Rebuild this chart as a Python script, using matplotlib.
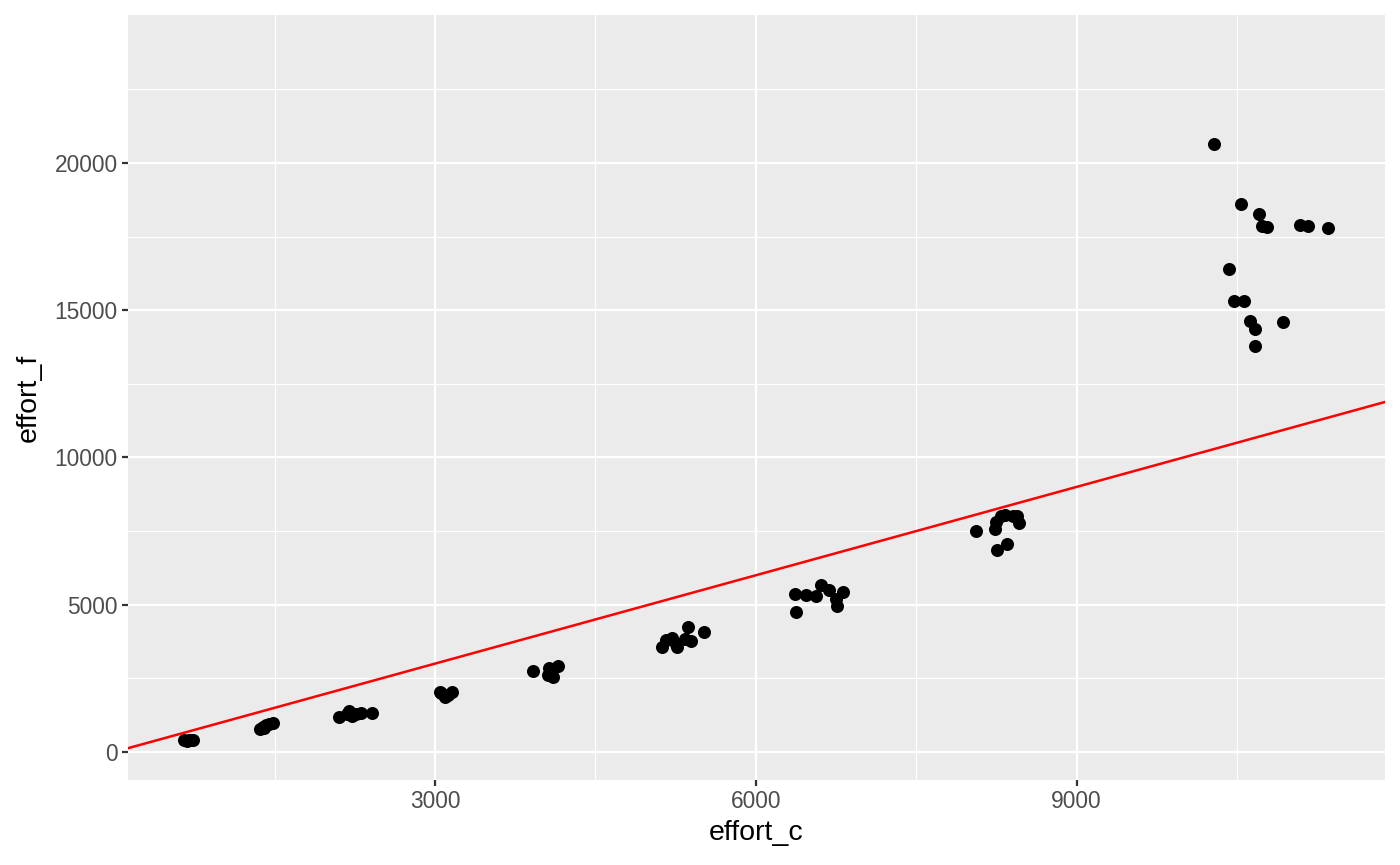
import matplotlib.pyplot as plt
import numpy as np

plt.rcParams['font.family'] = ['Liberation Sans', 'DejaVu Sans']

# effort_c / effort_f values, cluster by cluster
effort_c = [
    650, 680, 700, 720, 740,
    1360, 1390, 1420, 1450, 1480, 1400,
    2100, 2180, 2200, 2220, 2260, 2310, 2410,
    3050, 3090, 3120, 3160, 3060,
    3920, 4060, 4090, 4150, 4100, 4070,
    5125, 5160, 5220, 5250, 5340, 5370, 5390, 5520, 5260,
    6370, 6470, 6560, 6610, 6680, 6815, 6750, 6760, 6375,
    8060, 8240, 8250, 8290, 8330, 8410, 8440, 8460, 8255, 8350,
    10290, 10540, 10710, 10735, 10780, 11090, 11165, 11350,
    10425, 10475, 10565, 10625, 10670, 10930, 10670,
]
effort_f = [
    390, 380, 420, 390, 410,
    780, 850, 900, 950, 1000, 820,
    1190, 1290, 1390, 1220, 1290, 1320, 1330,
    2040, 1870, 1940, 2040, 2000,
    2750, 2620, 2780, 2920, 2560, 2850,
    3550, 3800, 3870, 3650, 3820, 4240, 3780, 4080, 3560,
    5370, 5320, 5290, 5680, 5500, 5430, 5200, 4950, 4740,
    7510, 7570, 7800, 8000, 8050, 8010, 8020, 7760, 6860, 7060,
    20650, 18600, 18260, 17860, 17820, 17880, 17850, 17780,
    16390, 15300, 15310, 14620, 14360, 14600, 13770,
]

xlim = (128, 11885)
ylim = (-951, 25025)

fig = plt.figure(figsize=(14, 8.65), dpi=100)
ax = fig.add_axes([0.0914, 0.0983, 0.8979, 0.8844])
ax.set_facecolor('#EBEBEB')

ax.set_xticks([3000, 6000, 9000])
ax.set_xticks([1500, 4500, 7500, 10500], minor=True)
ax.set_yticks([0, 5000, 10000, 15000, 20000])
ax.set_yticks([2500, 7500, 12500, 17500, 22500], minor=True)
ax.grid(which='major', color='white', linewidth=1.6)
ax.grid(which='minor', color='white', linewidth=0.8)
ax.set_axisbelow(True)

ax.scatter(effort_c, effort_f, s=88, color='black', linewidths=0, zorder=3)

# reference line y = x
xs = np.array(xlim)
ax.plot(xs, xs, color='red', linewidth=1.8, zorder=4)

ax.set_xlim(*xlim)
ax.set_ylim(*ylim)

for s in ax.spines.values():
    s.set_visible(False)
ax.tick_params(which='major', length=4.5, width=1.6, color='#333333',
               labelsize=16.4, labelcolor='#4D4D4D', pad=3)
ax.tick_params(which='minor', length=0)

ax.set_xlabel('effort_c', fontsize=20.5, labelpad=5)
ax.set_ylabel('effort_f', fontsize=20.5, labelpad=9)

fig.savefig('out.png', dpi=100)
